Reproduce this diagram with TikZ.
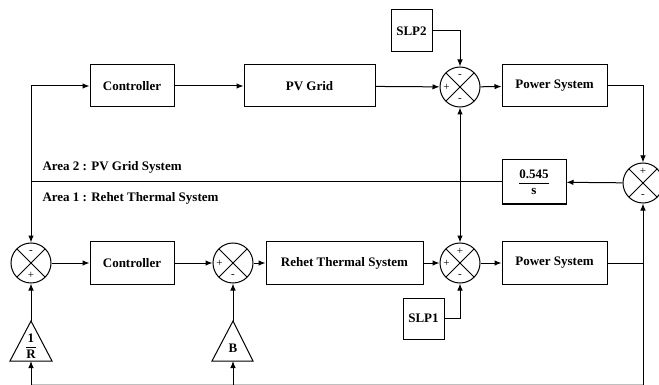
\documentclass[tikz,border=0pt]{standalone}
\usepackage{amsmath}
\usepackage{fontspec}
\setmainfont{Liberation Serif}
\usetikzlibrary{arrows.meta}

\tikzset{
	blk/.style={draw, line width=1pt, inner sep=0pt, font=\bfseries\fontsize{13}{15}\selectfont},
	sumnode/.style={draw, circle, line width=1pt, minimum size=40pt, inner sep=0pt,
		path picture={\draw[line width=1pt] (path picture bounding box.north west) -- (path picture bounding box.south east)
			(path picture bounding box.north east) -- (path picture bounding box.south west);}},
	sgn/.style={anchor=center, inner sep=0pt, font=\fontsize{11}{11}\selectfont},
}

\begin{document}
\begin{tikzpicture}[x=1pt, y=-1pt, line width=1pt, >={Latex[length=7pt, width=5.5pt]}]
	\useasboundingbox (0,0) rectangle (659,385);
	\node[blk, minimum width=84pt, minimum height=42pt] (ctrlA) at (132,86) {Controller};
	\node[blk, minimum width=131pt, minimum height=42pt] (pv) at (309.5,86) {PV Grid};
	\node[sumnode, label={[sgn, label distance=-9pt]90:-}, label={[sgn, label distance=-7pt]180:+}, label={[sgn, label distance=-8pt]270:-}] (sA) at (460,87) {};
	\node[blk, minimum width=41pt, minimum height=42pt] (slpA) at (411.5,31) {SLP2};
	\node[blk, minimum width=105pt, minimum height=42pt] (psA) at (554.5,86) {Power System};
	\node[sumnode, label={[sgn, label distance=-9pt]90:+}, label={[sgn, label distance=-8pt]270:-}] (sR) at (643,183) {};
	\node[blk, minimum width=64pt, minimum height=44pt] (gain) at (534,182) {$\dfrac{\textbf{0.545}}{\textbf{s}}$};

	\node[sumnode, label={[sgn, label distance=-9pt]90:-}, label={[sgn, label distance=-8pt]270:+}] (sL) at (31,263) {};
	\node[blk, minimum width=84pt, minimum height=43pt] (ctrlB) at (132,263) {Controller};
	\node[sumnode, label={[sgn, label distance=-7pt]180:+}, label={[sgn, label distance=-8pt]270:-}] (sB) at (233,263) {};
	\node[blk, minimum width=157pt, minimum height=43pt] (rts) at (344.5,263) {Rehet Thermal System};
	\node[sumnode, label={[sgn, label distance=-9pt]90:+}, label={[sgn, label distance=-7pt]180:+}, label={[sgn, label distance=-8pt]270:-}] (sC) at (460,263) {};
	\node[blk, minimum width=105pt, minimum height=43pt] (psB) at (554.5,263) {Power System};
	\node[blk, minimum width=41pt, minimum height=41pt] (slpB) at (423.5,318.5) {SLP1};

	\draw (31,321) -- (52,361) -- (10,361) -- cycle;
	\draw (233,321) -- (253,361) -- (212,361) -- cycle;
	\coordinate (triR) at (31,321);
	\coordinate (triRb) at (31,361);
	\coordinate (triB) at (233,321);
	\coordinate (triBb) at (233,361);
	\node[font=\bfseries\fontsize{13}{15}\selectfont, inner sep=0pt] (gR) at (31,346) {$\dfrac{\textbf{1}}{\textbf{R}}$};
	\node[font=\bfseries\fontsize{13}{15}\selectfont, inner sep=0pt] (gB) at (233,348) {B};

	\node[font=\bfseries\fontsize{13}{15}\selectfont, anchor=west, inner sep=0pt] (lblA) at (42,167) {Area 2 : PV Grid System};
	\node[font=\bfseries\fontsize{13}{15}\selectfont, anchor=west, inner sep=0pt] (lblB) at (42,198) {Area 1 : Rehet Thermal System};

	\coordinate (bL) at (31,384.6);
	\coordinate (bB) at (233,384.6);
	\coordinate (bR) at (643,384.6);

	\draw[->] (ctrlA) -- (pv);
	\draw[->] (pv) -- (sA);
	\draw[->] (slpA.east) -| (sA.north);
	\draw[->] (sA) -- (psA);
	\draw[->] (psA.east) -| (sR.north);
	\draw[->] (sR) -- (gain);
	\draw[->] (gain.west) -| (sL.north);
	\draw[->] (gain.west -| sL) |- (ctrlA.west);
	\draw[<->] (sA) -- (sC);

	\draw[->] (sL) -- (ctrlB);
	\draw[->] (ctrlB) -- (sB);
	\draw[->] (sB) -- (rts);
	\draw[->] (rts) -- (sC);
	\draw[->] (sC) -- (psB);
	\draw[->] (slpB.east) -| (sC.south);
	\draw (psB.east) -- (psB.east -| sR);
	\draw[->] (bR) -- (sR.south);
	\draw[black!25] (bL) -- (bR);
	\draw[->] (bL) -- (triRb);
	\draw[->] (bB) -- (triBb);
	\draw[->] (triR) -- (sL.south);
	\draw[->] (triB) -- (sB.south);
\end{tikzpicture}
\end{document}
